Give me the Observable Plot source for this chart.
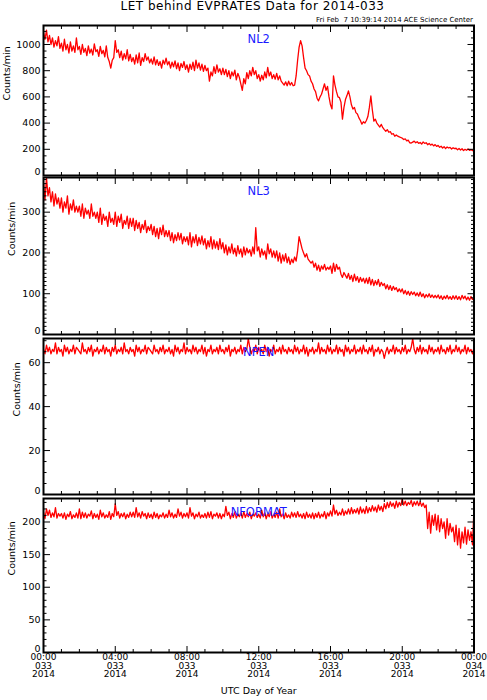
<!DOCTYPE html>
<html><head><meta charset="utf-8">
<script src="https://cdn.jsdelivr.net/npm/d3@7"></script>
<script src="https://cdn.jsdelivr.net/npm/@observablehq/plot@0.6"></script>
<style>
body{margin:0;background:#fff;}
#chart{position:relative;width:487px;height:700px;font-family:"DejaVu Sans",sans-serif;color:#000;overflow:hidden;}
.t{position:absolute;white-space:pre;line-height:1;}
</style></head><body>
<div id="chart">
<div class="t" style="left:0;width:505px;text-align:center;top:0;font-size:12px;letter-spacing:0.5px">LET behind EVPRATES Data for 2014-033</div>
<div class="t" style="left:0;width:473px;text-align:right;top:17px;font-size:7px">Fri Feb  7 10:39:14 2014 ACE Science Center</div>
</div>
<script>
// sampling interval of the typed series (minutes); one row = one hour
const sampleStepMinutes = 5;

const nl2 = [
 1090,1040,1110,1020,1070,1000,1050,980,1030,990,1060,970,
 1010,950,1040,960,1000,935,1020,950,990,940,1050,960,
 985,925,1000,940,970,915,990,935,965,920,1005,945,
 960,910,985,930,955,905,990,900,870,820,880,900,
 1030,940,960,900,950,880,930,890,960,875,925,870,
 900,850,920,860,935,840,900,870,930,880,905,860,
 890,850,905,845,885,840,870,820,880,850,895,845,
 870,820,865,830,875,815,860,800,855,825,870,810,
 845,790,850,810,865,800,880,820,860,805,850,795,
 840,800,820,720,790,760,830,780,845,790,815,770,
 820,770,810,755,800,740,790,760,805,730,780,750,
 700,650,740,700,785,740,800,760,825,770,800,740,
 770,720,765,730,790,745,825,760,790,740,770,735,
 780,730,760,720,705,690,715,685,720,690,710,685,
 690,760,880,980,1030,990,900,820,800,770,760,720,
 700,660,640,590,570,600,620,660,700,650,680,600,
 540,508,761,690,640,600,594,560,430,520,580,610,
 646,600,540,507,520,480,470,440,420,392,410,400,
 420,450,520,607,500,415,430,400,385,370,390,365,
 350,338,350,330,335,315,320,300,310,300,295,290,
 285,275,280,265,270,250,248,255,262,250,258,245,
 252,240,256,245,250,235,245,232,240,226,236,222,
 230,215,223,210,220,205,218,210,215,202,212,205,
 208,196,206,195,204,190,200,193,203,192,198,190,
 205];

const nl3 = [
 370,330,385,340,360,325,350,315,345,320,335,310,
 335,300,325,310,340,295,320,305,330,300,315,300,
 315,290,320,285,310,295,305,285,320,290,300,285,
 300,275,310,270,295,280,290,265,300,275,285,270,
 300,265,290,275,295,260,280,270,290,260,285,265,
 285,255,280,260,275,250,270,258,280,250,265,255,
 270,245,265,240,260,235,262,245,268,240,255,240,
 255,230,250,225,245,230,250,232,248,222,240,228,
 240,220,250,215,240,225,245,218,238,222,242,220,
 235,210,230,215,240,210,232,212,228,208,235,210,
 225,200,220,195,215,200,222,198,212,192,218,198,
 210,190,215,195,212,200,208,192,215,198,262,205,
 215,190,210,195,205,185,222,198,210,190,205,188,
 205,180,200,175,195,180,198,176,190,172,185,176,
 190,180,205,240,225,210,200,190,198,185,180,175,
 180,165,175,158,170,155,168,160,172,158,165,160,
 168,150,175,155,172,160,165,148,140,152,145,138,
 150,135,145,130,148,132,142,128,140,130,138,126,
 138,125,140,122,135,120,132,122,135,118,128,120,
 125,112,122,110,120,108,118,110,115,105,112,104,
 112,100,108,98,106,96,105,98,104,95,102,94,
 104,93,100,90,98,92,100,91,97,90,96,90,
 97,88,95,86,94,88,96,87,93,86,95,87,
 95,86,93,85,96,88,94,85,92,84,93,86,
 92];

const npen = [
 66,64,68,65,67,64,66,65,69,64,67,65,
 66,63,68,65,67,64,66,65,68,64,67,66,
 65,64,69,65,66,64,67,65,68,63,66,65,
 67,64,66,65,68,64,67,65,66,63,67,65,
 68,64,66,65,67,64,69,65,66,64,67,65,
 66,63,68,65,67,64,66,65,68,64,67,66,
 65,64,68,65,66,64,67,65,68,64,66,65,
 67,64,66,63,68,65,67,64,66,65,69,64,
 67,65,66,64,68,65,67,64,66,65,68,64,
 67,63,66,65,68,64,66,65,67,64,68,65,
 66,64,67,65,68,63,66,65,67,64,66,65,
 68,64,67,65,66,71,67,64,66,65,68,64,
 67,65,66,64,68,65,67,63,66,65,68,64,
 66,65,67,64,68,65,66,64,67,65,66,64,
 68,65,67,64,66,65,68,64,67,63,66,65,
 67,64,66,65,69,64,67,65,66,64,68,65,
 67,64,66,65,68,64,67,65,66,63,68,65,
 67,64,66,65,68,64,66,65,67,64,68,65,
 66,64,67,65,68,63,66,65,67,64,66,65,
 62,65,67,64,66,65,68,64,67,65,66,64,
 67,65,68,64,66,65,67,71,66,64,67,65,
 68,64,67,65,66,64,68,65,67,64,66,65,
 67,64,68,65,66,64,67,65,68,64,66,65,
 68,65,67,64,66,65,68,64,67,65,66,64,
 67];

const nformat = [
 215,205,220,210,218,207,214,208,222,206,213,209,
 213,206,214,204,212,208,216,205,211,207,214,206,
 220,205,215,207,214,206,212,209,217,205,213,207,
 212,204,218,208,214,206,211,207,216,204,213,208,
 228,210,216,206,213,208,214,205,212,207,215,208,
 215,207,222,208,214,206,216,209,213,205,214,207,
 212,205,215,207,213,205,211,208,214,206,212,207,
 218,208,214,206,212,207,220,209,215,206,213,208,
 214,206,222,209,214,205,212,208,215,206,211,207,
 213,206,215,207,216,205,212,209,214,206,213,205,
 212,208,224,210,215,205,213,207,216,206,212,208,
 214,206,216,207,213,208,215,205,212,209,214,207,
 212,206,218,208,214,205,213,208,216,206,212,207,
 215,206,220,208,212,205,214,207,211,206,215,208,
 214,207,216,208,212,206,213,205,215,207,212,206,
 214,205,213,207,215,206,212,208,216,205,214,209,
 217,209,226,212,218,210,215,211,220,210,217,212,
 220,212,222,213,219,214,221,212,223,214,220,213,
 224,214,222,216,225,217,223,215,226,218,224,216,
 228,220,230,222,231,224,229,221,232,223,230,225,
 235,226,232,225,230,227,233,224,231,226,232,225,
 231,224,229,222,226,190,215,183,210,195,212,188,
 210,185,205,190,200,175,205,180,198,185,192,170,
 195,165,190,160,185,168,192,166,188,172,185,165,
 222];

const panelNames = ["NL2", "NL3", "NPEN", "NFORMAT"];
const yLabel = "Counts/min";
const xLabel = "UTC Day of Year";

const nl2Ticks = [0, 200, 400, 600, 800, 1000];
const nl3Ticks = [0, 100, 200, 300];
const npenTicks = [0, 20, 40, 60];
const nformatTicks = [0, 50, 100, 150, 200];

const xTickMinutes = [0, 240, 480, 720, 960, 1200, 1440];
const xTickTime = ["00:00", "04:00", "08:00", "12:00", "16:00", "20:00", "00:00"];
const xTickDoy = ["033", "033", "033", "033", "033", "033", "034"];
const xTickYear = ["2014", "2014", "2014", "2014", "2014", "2014", "2014"];

const chart = document.getElementById("chart");

// inward-pointing ticks: draw an outward tick and shift it back by its length
function inTicksY(values, size) {
  return [
    Plot.axisY(values, {anchor: "left", tickSize: size, dx: size, fill: "none", label: null, strokeWidth: 1}),
    Plot.axisY(values, {anchor: "right", tickSize: size, dx: -size, fill: "none", label: null, strokeWidth: 1})
  ];
}
function inTicksX(values, size) {
  return [
    Plot.axisX(values, {anchor: "bottom", tickSize: size, dy: -size, fill: "none", label: null, strokeWidth: 1}),
    Plot.axisX(values, {anchor: "top", tickSize: size, dy: size, fill: "none", label: null, strokeWidth: 1})
  ];
}

function panel({values, name, domain, major, minorStep, top, frameH, labelDx, last}) {
  const data = values.map((v, i) => ({t: i * sampleStepMinutes, v}));
  const minor = d3.range(0, domain[1] + 0.001, minorStep).filter(d => !major.includes(d));
  const xMinor = d3.range(0, 1441, 60).filter(d => !xTickMinutes.includes(d));
  const mt = 4, mb = last ? 50 : 4;
  const marks = [
    Plot.lineY(data, {x: "t", y: "v", stroke: "#ff0000", strokeWidth: 1.3, clip: true}),
    ...inTicksY(major, 7),
    ...inTicksY(minor, 3.5),
    ...inTicksX(xTickMinutes, 6),
    ...inTicksX(xMinor, 3),
    Plot.axisY(major.filter(d => d !== 0), {anchor: "left", tickSize: 0, tickPadding: 3, label: null, tickFormat: d => String(d)}),
    Plot.axisY([0], {anchor: "left", tickSize: 0, tickPadding: 3, dy: -4, label: null, tickFormat: d => String(d)}),
    Plot.frame({stroke: "#000", strokeWidth: 2}),
    Plot.text([name], {frameAnchor: "top", dy: 9.5, fill: "#1a1aff", fontSize: 11.5}),
    Plot.text([yLabel], {frameAnchor: "left", dx: labelDx, rotate: -90, fontSize: 9.5})
  ];
  if (last) {
    marks.push(Plot.axisX(xTickMinutes, {
      anchor: "bottom", tickSize: 0, tickPadding: 2, label: null, lineHeight: 0.93, fontSize: 9,
      tickFormat: d => { const i = xTickMinutes.indexOf(d); return `${xTickTime[i]}\n${xTickDoy[i]}\n${xTickYear[i]}`; }
    }));
    marks.push(Plot.text([xLabel], {frameAnchor: "bottom", dy: 41, fontSize: 9.5}));
  }
  const p = Plot.plot({
    width: 487, height: mt + frameH + mb,
    marginLeft: 43, marginRight: 13.5, marginTop: mt, marginBottom: mb,
    style: {background: "transparent", overflow: "visible", fontFamily: "DejaVu Sans", fontSize: "9.5px", color: "#000"},
    x: {domain: [0, 1440]},
    y: {domain},
    marks
  });
  p.style.position = "absolute";
  p.style.left = "0px";
  p.style.top = (top - mt) + "px";
  chart.appendChild(p);
}

panel({values: nl2, name: panelNames[0], domain: [0, 1145], major: nl2Ticks, minorStep: 50, top: 25, frameH: 150, labelDx: -37, last: false});
panel({values: nl3, name: panelNames[1], domain: [0, 385], major: nl3Ticks, minorStep: 10, top: 177, frameH: 157, labelDx: -31.5, last: false});
panel({values: npen, name: panelNames[2], domain: [0, 71], major: npenTicks, minorStep: 5, top: 338, frameH: 156, labelDx: -26.5, last: false});
panel({values: nformat, name: panelNames[3], domain: [0, 236], major: nformatTicks, minorStep: 10, top: 498, frameH: 154, labelDx: -31.5, last: true});
</script>
</body></html>
